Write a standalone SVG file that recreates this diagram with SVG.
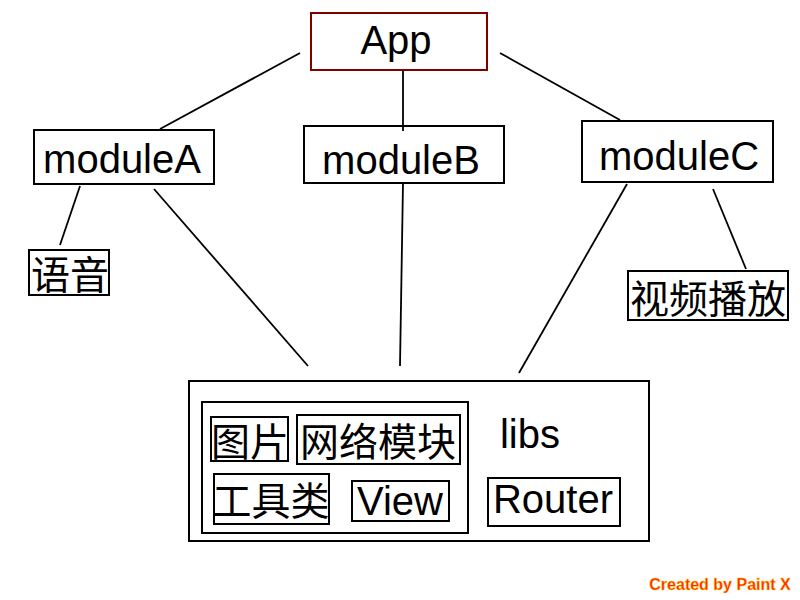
<svg xmlns="http://www.w3.org/2000/svg" width="800" height="600" viewBox="0 0 800 600">
<style>
.box{fill:#fff;stroke:#000;stroke-width:2}
.plain{fill:none;stroke:#000;stroke-width:2}
.t{font-family:"Liberation Sans","Noto Sans CJK SC",sans-serif;font-size:40px;fill:#000;text-anchor:middle}
.c{font-family:"Noto Sans CJK SC","Liberation Sans",sans-serif;font-size:39px;fill:#000;text-anchor:middle}
.conn line{stroke:#000;stroke-width:1.8}
</style>
<rect width="800" height="600" fill="#fff"/>
<g id="connectors" class="conn">
<line x1="300" y1="53" x2="160" y2="129"/>
<line x1="403" y1="71" x2="403" y2="131"/>
<line x1="500" y1="53" x2="620" y2="120"/>
<line x1="80" y1="186" x2="60" y2="245"/>
<line x1="154" y1="189" x2="308" y2="366"/>
<line x1="403" y1="183" x2="400" y2="366"/>
<line x1="627" y1="184" x2="519" y2="373"/>
<line x1="713" y1="189" x2="746" y2="269"/>
</g>
<g id="app"><rect x="311" y="13" width="176" height="57" fill="#fff" stroke="#800000" stroke-width="2"/><text class="t" x="396" y="54">App</text></g>
<g id="moduleA"><rect class="box" x="34" y="130" width="180" height="54"/><text class="t" x="122" y="173">moduleA</text></g>
<g id="moduleB"><rect class="plain" x="304" y="126" width="200" height="57"/><text class="t" x="401" y="174">moduleB</text></g>
<g id="moduleC"><rect class="box" x="582" y="121" width="191" height="61"/><text class="t" x="679" y="170">moduleC</text></g>
<g id="yuyin"><rect class="box" x="29" y="250" width="80" height="45"/><text class="c" x="70" y="289">语音</text></g>
<g id="shipin"><rect class="box" x="628" y="271" width="160" height="49"/><text class="c" x="708" y="313">视频播放</text></g>
<g id="libs">
<rect class="box" x="189" y="381" width="460" height="160"/>
<rect class="plain" x="202" y="402" width="266" height="131"/>
<text class="t" x="530" y="448">libs</text>
</g>
<g id="tupian"><rect class="plain" x="211" y="417" width="77" height="44"/><text class="c" x="250" y="456">图片</text></g>
<g id="wangluo"><rect class="plain" x="297" y="415" width="163" height="49"/><text class="c" x="378" y="456">网络模块</text></g>
<g id="gongju"><rect class="plain" x="214" y="474" width="115" height="50"/><text class="c" x="271" y="515">工具类</text></g>
<g id="view"><rect class="plain" x="352" y="481" width="97" height="40"/><text class="t" x="400" y="515">View</text></g>
<g id="router"><rect class="plain" x="488" y="478" width="132" height="48"/><text class="t" x="553" y="513">Router</text></g>
<text x="720" y="590" font-family="Liberation Sans, sans-serif" font-size="16" font-weight="bold" fill="#ff2a00" stroke="#ffd000" stroke-width="0.4" text-anchor="middle">Created by Paint X</text>
</svg>
